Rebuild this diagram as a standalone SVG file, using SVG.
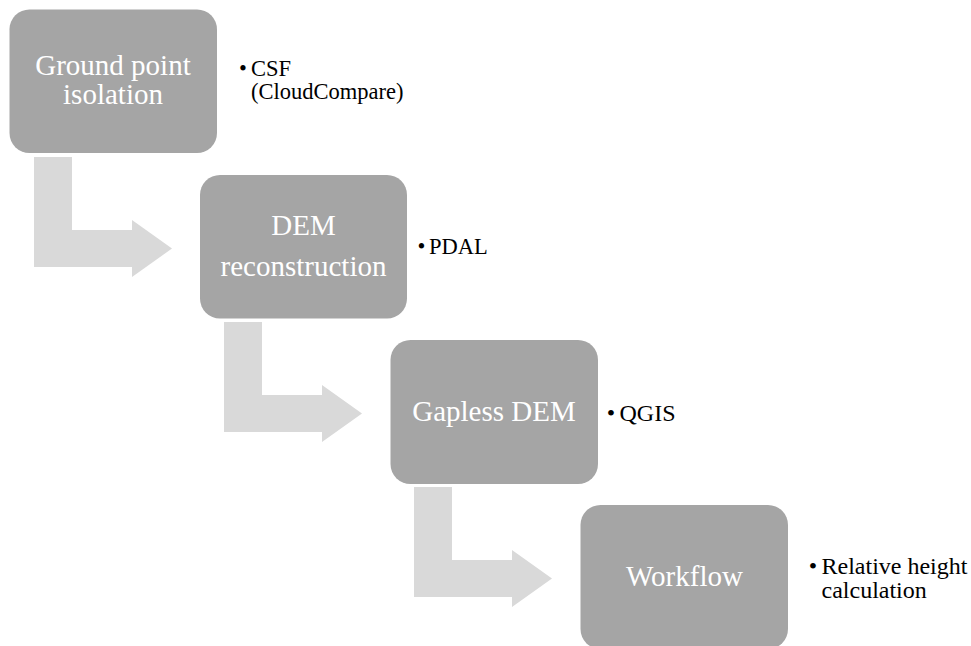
<svg xmlns="http://www.w3.org/2000/svg" width="971" height="646" viewBox="0 0 971 646">
  <style>
    .box { fill: #a5a5a5; }
    .arrow { fill: #d9d9d9; }
    .btxt { font-size: 29px; fill: #ffffff; text-anchor: middle; }
    .lbl { font-size: 22.5px; fill: #000000; }
    .bul { font-size: 22.5px; fill: #000000; text-anchor: middle; }
    .big { font-size: 24px; }
  </style>
  <rect width="971" height="646" fill="#ffffff"/>
  <g id="connectors">
    <path class="arrow" d="M34,157 H72 V230 H132 V220 L172,248.5 L132,277 V267 H34 Z"/>
    <path class="arrow" d="M224,322 H262 V395 H322 V385 L362,413.5 L322,442 V432 H224 Z"/>
    <path class="arrow" d="M414,487 H452 V560 H512 V550 L552,578.5 L512,607 V597 H414 Z"/>
  </g>
  <g font-family="'Liberation Serif', serif">
  <g id="node-ground">
    <rect class="box" x="9.5" y="9.5" width="207.5" height="143.5" rx="20"/>
    <text class="btxt" x="113" y="75">Ground point</text>
    <text class="btxt" x="113" y="104">isolation</text>
  </g>
  <g id="label-csf">
    <text class="bul" x="243" y="76">•</text>
    <text class="lbl" x="251" y="76">CSF</text>
    <text class="lbl" x="251" y="99">(CloudCompare)</text>
  </g>
  <g id="node-dem">
    <rect class="box" x="200" y="175" width="207" height="143.5" rx="20"/>
    <text class="btxt" x="303.5" y="235">DEM</text>
    <text class="btxt" x="303.5" y="276">reconstruction</text>
  </g>
  <g id="label-pdal">
    <text class="bul" x="421.5" y="254">•</text>
    <text class="lbl" x="429" y="254">PDAL</text>
  </g>
  <g id="node-gapless">
    <rect class="box" x="390.5" y="340" width="207.5" height="144" rx="20"/>
    <text class="btxt" x="494" y="421">Gapless DEM</text>
  </g>
  <g id="label-qgis">
    <text class="bul big" x="611" y="421">•</text>
    <text class="lbl big" x="619.5" y="421">QGIS</text>
  </g>
  <g id="node-workflow">
    <rect class="box" x="580.5" y="505" width="207.5" height="144" rx="20"/>
    <text class="btxt" x="684.5" y="586">Workflow</text>
  </g>
  <g id="label-relative">
    <text class="bul big" x="813" y="574">•</text>
    <text class="lbl big" x="821.5" y="574">Relative height</text>
    <text class="lbl big" x="821.5" y="598">calculation</text>
  </g>
  </g>
</svg>
